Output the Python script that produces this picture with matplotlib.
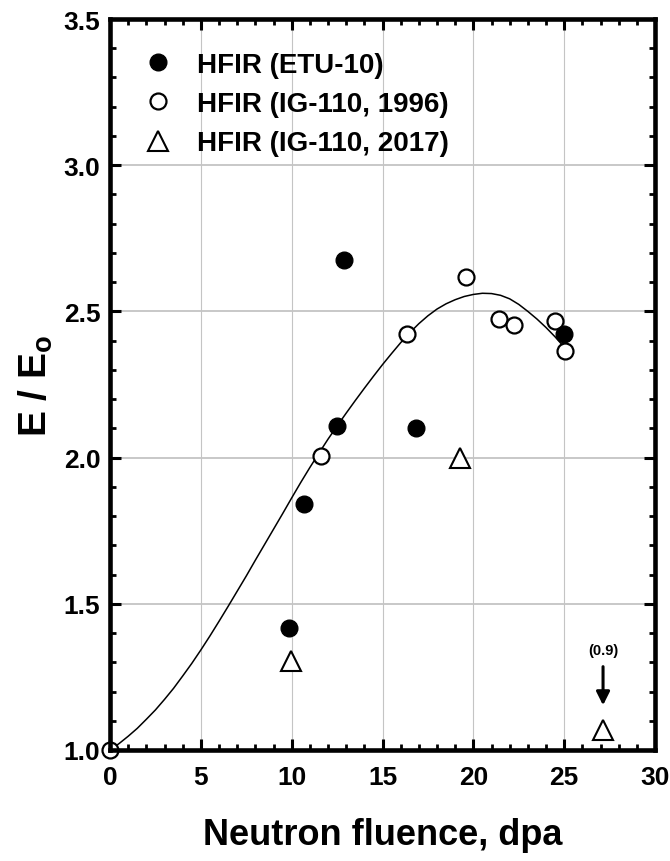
import matplotlib
matplotlib.use("Agg")
import matplotlib.pyplot as plt
from matplotlib.ticker import MultipleLocator, FormatStrFormatter
from matplotlib.lines import Line2D

# ---- data ----
etu_x = [9.85, 10.66, 12.47, 12.89, 16.84, 24.97]
etu_y = [1.416, 1.841, 2.108, 2.677, 2.100, 2.423]

ig96_x = [0.0, 11.6, 16.35, 19.6, 21.43, 22.25, 24.5, 25.06]
ig96_y = [1.0, 2.006, 2.421, 2.617, 2.474, 2.453, 2.467, 2.366]

ig17_x = [9.94, 19.27, 27.14]
ig17_y = [1.303, 2.0, 1.07]

# fitted curve, every 0.5 dpa
fit_x = [0.0, 0.5, 1.0, 1.5, 2.0, 2.5, 3.0, 3.5, 4.0, 4.5, 5.0, 5.5, 6.0, 6.5,
         7.0, 7.5, 8.0, 8.5, 9.0, 9.5, 10.0, 10.5, 11.0, 11.5, 12.0, 12.5,
         13.0, 13.5, 14.0, 14.5, 15.0, 15.5, 16.0, 16.5, 17.0, 17.5, 18.0,
         18.5, 19.0, 19.5, 20.0, 20.5, 21.0, 21.5, 22.0, 22.5, 23.0, 23.5,
         24.0, 24.5, 25.0]
fit_y = [1.000, 1.022, 1.047, 1.074, 1.105, 1.137, 1.173, 1.211, 1.253, 1.296,
         1.342, 1.390, 1.440, 1.491, 1.543, 1.595, 1.649, 1.702, 1.755, 1.808,
         1.862, 1.915, 1.966, 2.015, 2.063, 2.108, 2.152, 2.195, 2.237, 2.278,
         2.318, 2.356, 2.393, 2.427, 2.458, 2.485, 2.508, 2.526, 2.540, 2.551,
         2.558, 2.562, 2.561, 2.555, 2.543, 2.524, 2.500, 2.474, 2.445, 2.413,
         2.378]

labels = ["HFIR (ETU-10)", "HFIR (IG-110, 1996)", "HFIR (IG-110, 2017)"]
note_text = "(0.9)"
note_x = 27.14
note_y = 1.342
arrow_start = 1.285
arrow_end = 1.153

x_label = "Neutron fluence, dpa"
y_label = r"E / E$_\mathregular{o}$"

# ---- style ----
plt.rcParams['font.family'] = ['Liberation Sans', 'DejaVu Sans']
plt.rcParams['font.weight'] = 'bold'
plt.rcParams['mathtext.fontset'] = 'custom'
plt.rcParams['mathtext.rm'] = 'Liberation Sans:bold'

fig = plt.figure(figsize=(6.7, 8.62), dpi=100)
ax = fig.add_axes([110 / 670, 1 - 751 / 862, 545 / 670, 731 / 862])

ax.set_xlim(0, 30)
ax.set_ylim(1.0, 3.5)

# grid
ax.xaxis.grid(True, which='major', color='#c4c4c4', lw=0.8)
ax.yaxis.grid(True, which='major', color='#c4c4c4', lw=1.3)
ax.set_axisbelow(True)

# fit curve
ax.plot(fit_x, fit_y, color='black', lw=1.1, zorder=3)

# data
ax.plot(ig96_x, ig96_y, ls='none', marker='o', ms=11.5, mfc='white', mec='black',
        mew=1.6, zorder=4, clip_on=False)
ax.plot(etu_x, etu_y, ls='none', marker='o', ms=12, mfc='black', mec='black',
        mew=1.0, zorder=5, clip_on=False)
ax.plot(ig17_x, ig17_y, ls='none', marker='^', ms=14.5, mfc='white', mec='black',
        mew=1.5, zorder=4, clip_on=False)

# annotation
ax.annotate('', xy=(note_x, arrow_end), xytext=(note_x, arrow_start),
            arrowprops=dict(arrowstyle='-|>', color='black', lw=2.2,
                            mutation_scale=20, shrinkA=0, shrinkB=0))
ax.text(note_x, note_y, note_text, ha='center', va='center', fontsize=10.5,
        fontweight='bold')

# ticks
ax.xaxis.set_major_locator(MultipleLocator(5))
ax.xaxis.set_minor_locator(MultipleLocator(1))
ax.yaxis.set_major_locator(MultipleLocator(0.5))
ax.yaxis.set_minor_locator(MultipleLocator(0.1))
ax.yaxis.set_major_formatter(FormatStrFormatter('%.1f'))
ax.tick_params(which='both', direction='in', top=True, right=True, color='black')
ax.tick_params(which='major', length=8, width=2.2, labelsize=19)
ax.tick_params(which='minor', length=4, width=2.0)
ax.tick_params(axis='x', which='major', pad=11)
ax.tick_params(axis='y', which='major', pad=7)
for s in ax.spines.values():
    s.set_linewidth(3.3)
    s.set_zorder(6)

ax.set_xlabel(x_label, fontsize=26, fontweight='bold', labelpad=20)
ax.set_ylabel(y_label, fontsize=28, fontweight='bold', labelpad=6)

# legend
handles = [
    Line2D([], [], ls='none', marker='o', ms=12, mfc='black', mec='black'),
    Line2D([], [], ls='none', marker='o', ms=11.5, mfc='white', mec='black', mew=1.6),
    Line2D([], [], ls='none', marker='^', ms=14.5, mfc='white', mec='black', mew=1.5),
]
leg = ax.legend(handles, labels, loc='upper left', bbox_to_anchor=(0.053, 0.963),
                frameon=False, fontsize=20, handlelength=1.0, handletextpad=0.9,
                labelspacing=0.48, borderaxespad=0.0, borderpad=0.2)

fig.savefig('out.png', dpi=100)
